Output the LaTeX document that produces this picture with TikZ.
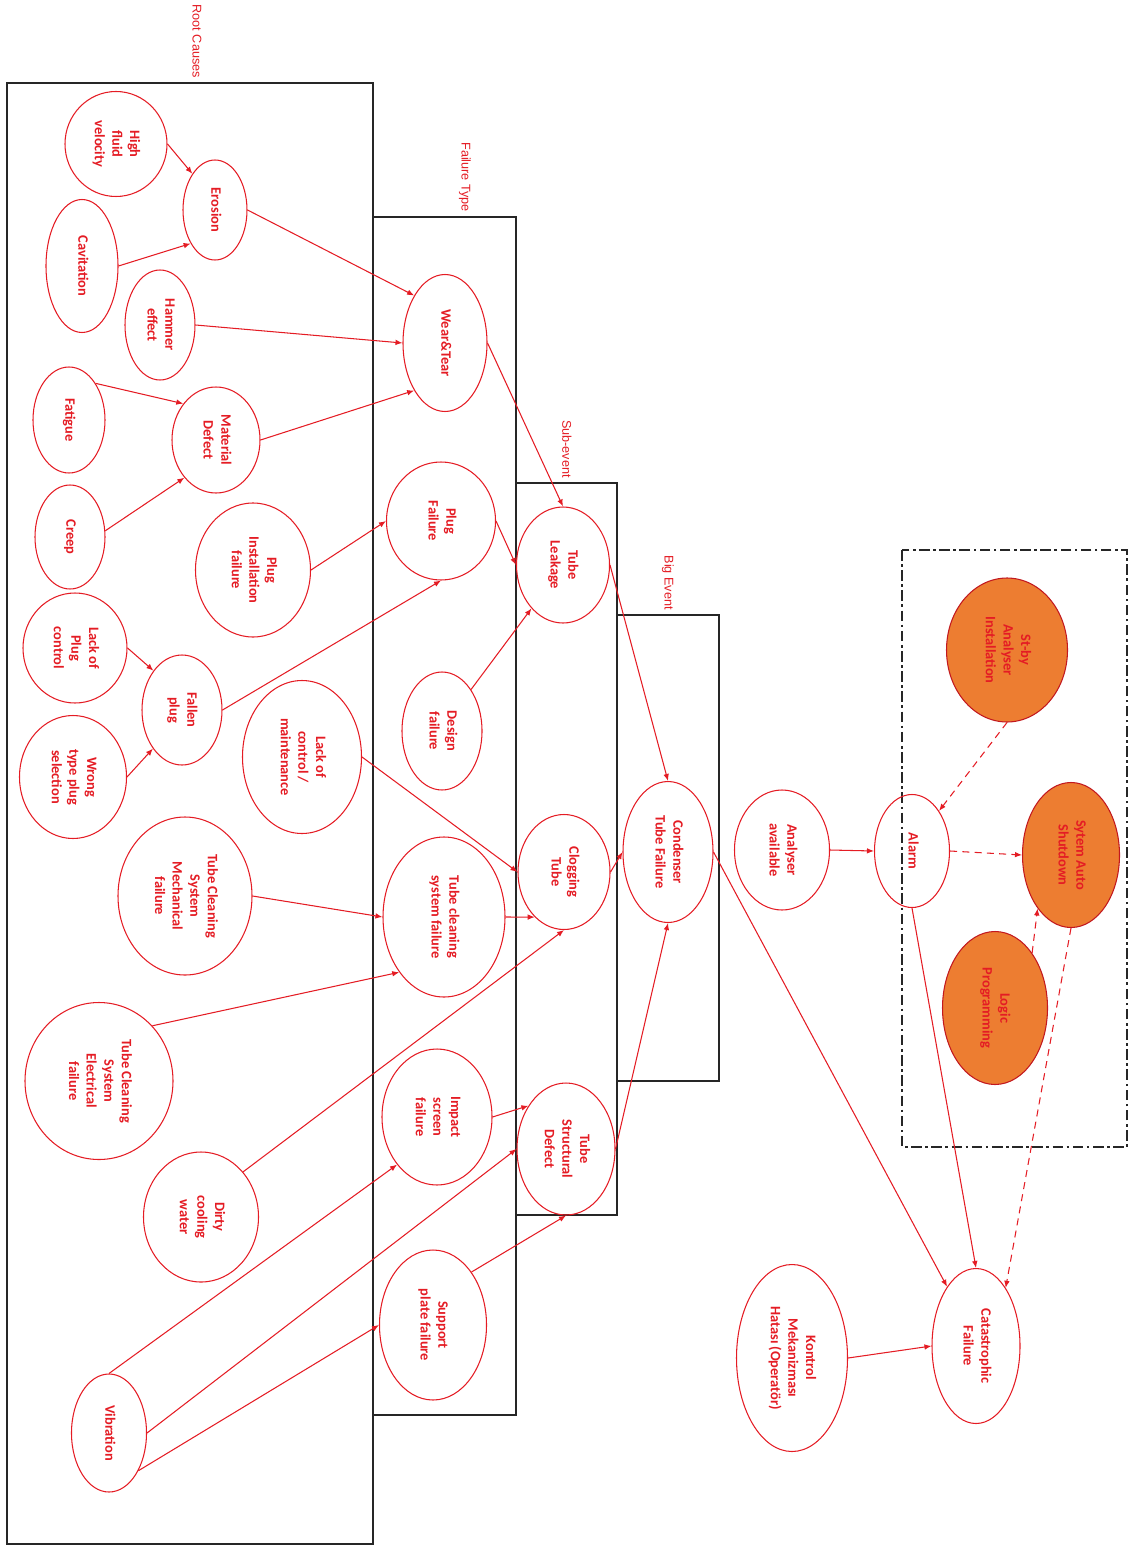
\documentclass[tikz,border=0pt]{standalone}
\usepackage{fontspec}
\setmainfont{Carlito}
\newfontfamily\labelfont{Liberation Sans}
\usepackage{graphicx}
\usetikzlibrary{shapes.geometric,arrows.meta}
\definecolor{fred}{RGB}{228,28,36}
\definecolor{forange}{RGB}{237,125,49}
% text set top-to-bottom inside an upright ellipse
\newcommand\rottext[1]{\rotatebox{-90}{\begin{tabular}{@{}c@{}}#1\end{tabular}}}

\begin{document}
\begin{tikzpicture}[x=0.02cm,y=-0.02cm,
  ev/.style={ellipse,draw=fred,line width=0.6pt,inner sep=0pt,text=fred,
             font=\fontsize{8.2}{10}\selectfont\bfseries},
  sz/.style 2 args={minimum width=#1*0.02cm,minimum height=#2*0.02cm},
  hot/.style={fill=forange,draw=fred!85!black},
  lnk/.style={draw=fred,line width=0.6pt,-{Latex[length=4pt,width=3.2pt]}},
  dlnk/.style={lnk,dash pattern=on 4pt off 3pt},
  boxline/.style={draw=black!85,line width=0.9pt},
  ttl/.style={rotate=-90,anchor=east,text=fred,inner sep=1pt,
              font=\labelfont\fontsize{7.2}{8}\selectfont}]

\useasboundingbox (0,0) rectangle (1139,1547);

% ---- stage frames ----
\draw[boxline] (7,83) rectangle (373,1544);
\draw[boxline] (373,217) rectangle (516,1415);
\draw[boxline] (516,483) rectangle (617,1215);
\draw[boxline] (617,615) rectangle (719,1081);
\draw[draw=black!85,line width=0.9pt,dash pattern=on 6pt off 2pt on 1.5pt off 2pt]
  (902,550) rectangle (1127,1147);

% ---- stage titles ----
\node[ttl] (tRoot) at (197,80) {Root Causes};
\node[ttl] (tFail) at (465,214) {Failure Type};
\node[ttl] (tSub)  at (567,480) {Sub-event};
\node[ttl] (tBig)  at (668,612) {Big Event};

% ---- root causes ----
\node[ev,sz={102}{105}] (hfv)  at (116,144)  {\rottext{High\\fluid\\velocity}};
\node[ev,sz={64}{100}]  (ero)  at (215,210)  {\rottext{Erosion}};
\node[ev,sz={72}{133}]  (cav)  at (82,266)   {\rottext{Cavitation}};
\node[ev,sz={70}{110}]  (ham)  at (160,325)  {\rottext{Hammer\\effect}};
\node[ev,sz={72}{106}]  (fat)  at (69,420)   {\rottext{Fatigue}};
\node[ev,sz={88}{106}]  (mat)  at (216,440)  {\rottext{Material\\Defect}};
\node[ev,sz={70}{104}]  (crp)  at (70,537)   {\rottext{Creep}};
\node[ev,sz={115}{134}] (pin)  at (253,570)  {\rottext{Plug\\Installation\\failure}};
\node[ev,sz={104}{110}] (lpc)  at (75,648)   {\rottext{Lack of\\Plug\\control}};
\node[ev,sz={80}{110}]  (fal)  at (182,710)  {\rottext{Fallen\\plug}};
\node[ev,sz={107}{123}] (wts)  at (73,777)   {\rottext{Wrong\\type plug\\selection}};
\node[ev,sz={119}{153}] (lcm)  at (302,757)  {\rottext{Lack of\\control /\\maintenance}};
\node[ev,sz={134}{158}] (tcm)  at (185,896)  {\rottext{Tube Cleaning\\System\\Mechanical\\failure}};
\node[ev,sz={148}{157}] (tce)  at (99,1081)  {\rottext{Tube Cleaning\\System\\Electrical\\failure}};
\node[ev,sz={115}{130}] (dcw)  at (201,1217) {\rottext{Dirty\\cooling\\water}};
\node[ev,sz={75}{118}]  (vib)  at (109,1433) {\rottext{Vibration}};

% ---- failure types ----
\node[ev,sz={84}{137}]  (wt)   at (445,343)  {\rottext{Wear\&Tear}};
\node[ev,sz={109}{118}] (pf)   at (441,521)  {\rottext{Plug\\Failure}};
\node[ev,sz={80}{118}]  (des)  at (442,731)  {\rottext{Design\\failure}};
\node[ev,sz={122}{160}] (tcs)  at (444,917)  {\rottext{Tube cleaning\\system failure}};
\node[ev,sz={110}{136}] (imp)  at (437,1117) {\rottext{Impact\\screen\\failure}};
\node[ev,sz={107}{150}] (sup)  at (433,1325) {\rottext{Support\\plate failure}};

% ---- sub-events ----
\node[ev,sz={93}{116}]  (tl)   at (563,565)  {\rottext{Tube\\Leakage}};
\node[ev,sz={92}{115}]  (clg)  at (564,872)  {\rottext{Clogging\\Tube}};
\node[ev,sz={98}{132}]  (tsd)  at (566,1149) {\rottext{Tube\\Structural\\Defect}};

% ---- big event and consequences ----
\node[ev,sz={90}{141}]  (ctf)  at (668,852)  {\rottext{Condenser\\Tube Failure}};
\node[ev,sz={95}{120}]  (ana)  at (782,850)  {\rottext{Analyser\\available}};
\node[ev,sz={75}{113}]  (alm)  at (912,851)  {\rottext{Alarm}};
\node[ev,hot,sz={121}{144}] (sby) at (1007,650) {\rottext{St-by\\Analyser\\Installation}};
\node[ev,hot,sz={97}{145}]  (sas) at (1071,855) {\rottext{Sytem Auto\\Shutdown}};
\node[ev,hot,sz={105}{153}] (lgp) at (995,1008) {\rottext{Logic\\Programming}};
\node[ev,sz={88}{155}]  (cat)  at (976,1346) {\rottext{Catastrophic\\Failure}};
\node[ev,sz={111}{187}] (kmh)  at (792,1358) {\rottext{Kontrol\\Mekanizması\\Hatası (Operatör)}};

% ---- root causes to failure types ----
\draw[lnk] (hfv.east) -- (ero.122);
\draw[lnk] (cav.east) -- (ero.234);
\draw[lnk] (ero.east) -- (wt.123);
\draw[lnk] (ham.east) -- (wt.west);
\draw[lnk] (fat.54) -- (mat.132);
\draw[lnk] (crp.10) -- (mat.230);
\draw[lnk] (mat.east) -- (wt.237);
\draw[lnk] (pin.east) -- (pf.west);
\draw[lnk] (lpc.east) -- (fal.126);
\draw[lnk] (wts.east) -- (fal.233);
\draw[lnk] (fal.east) -- (pf.south);
\draw[lnk] (lcm.east) -- (clg.west);
\draw[lnk] (tcm.east) -- (tcs.west);
\draw[lnk] (tce.46) -- (tcs.231);
\draw[lnk] (dcw.47) -- (clg.south);
\draw[lnk] (vib.north) -- (imp.230);
\draw[lnk] (vib.east) -- (tsd.west);
\draw[lnk] (vib.308) -- (sup.west);

% ---- failure types to sub-events ----
\draw[lnk] (wt.east) -- (tl.north);
\draw[lnk] (pf.east) -- (tl.west);
\draw[lnk] (des.55) -- (tl.234);
\draw[lnk] (tcs.east) -- (clg.237);
\draw[lnk] (imp.east) -- (tsd.131);
\draw[lnk] (sup.54) -- (tsd.south);

% ---- sub-events to big event ----
\draw[lnk] (tl.east) -- (ctf.north);
\draw[lnk] (clg.east) -- (ctf.west);
\draw[lnk] (tsd.east) -- (ctf.south);

% ---- consequences ----
\draw[lnk] (ctf.east) -- (cat.116);
\draw[lnk] (ana.east) -- (alm.west);
\draw[lnk] (alm.south) -- (cat.north);
\draw[lnk] (kmh.east) -- (cat.west);
\draw[dlnk] (sby.south) -- (alm.56);
\draw[dlnk] (alm.east) -- (sas.west);
\draw[dlnk] (lgp.56) -- (sas.238);
\draw[dlnk] (sas.south) -- (cat.63);
\end{tikzpicture}
\end{document}
